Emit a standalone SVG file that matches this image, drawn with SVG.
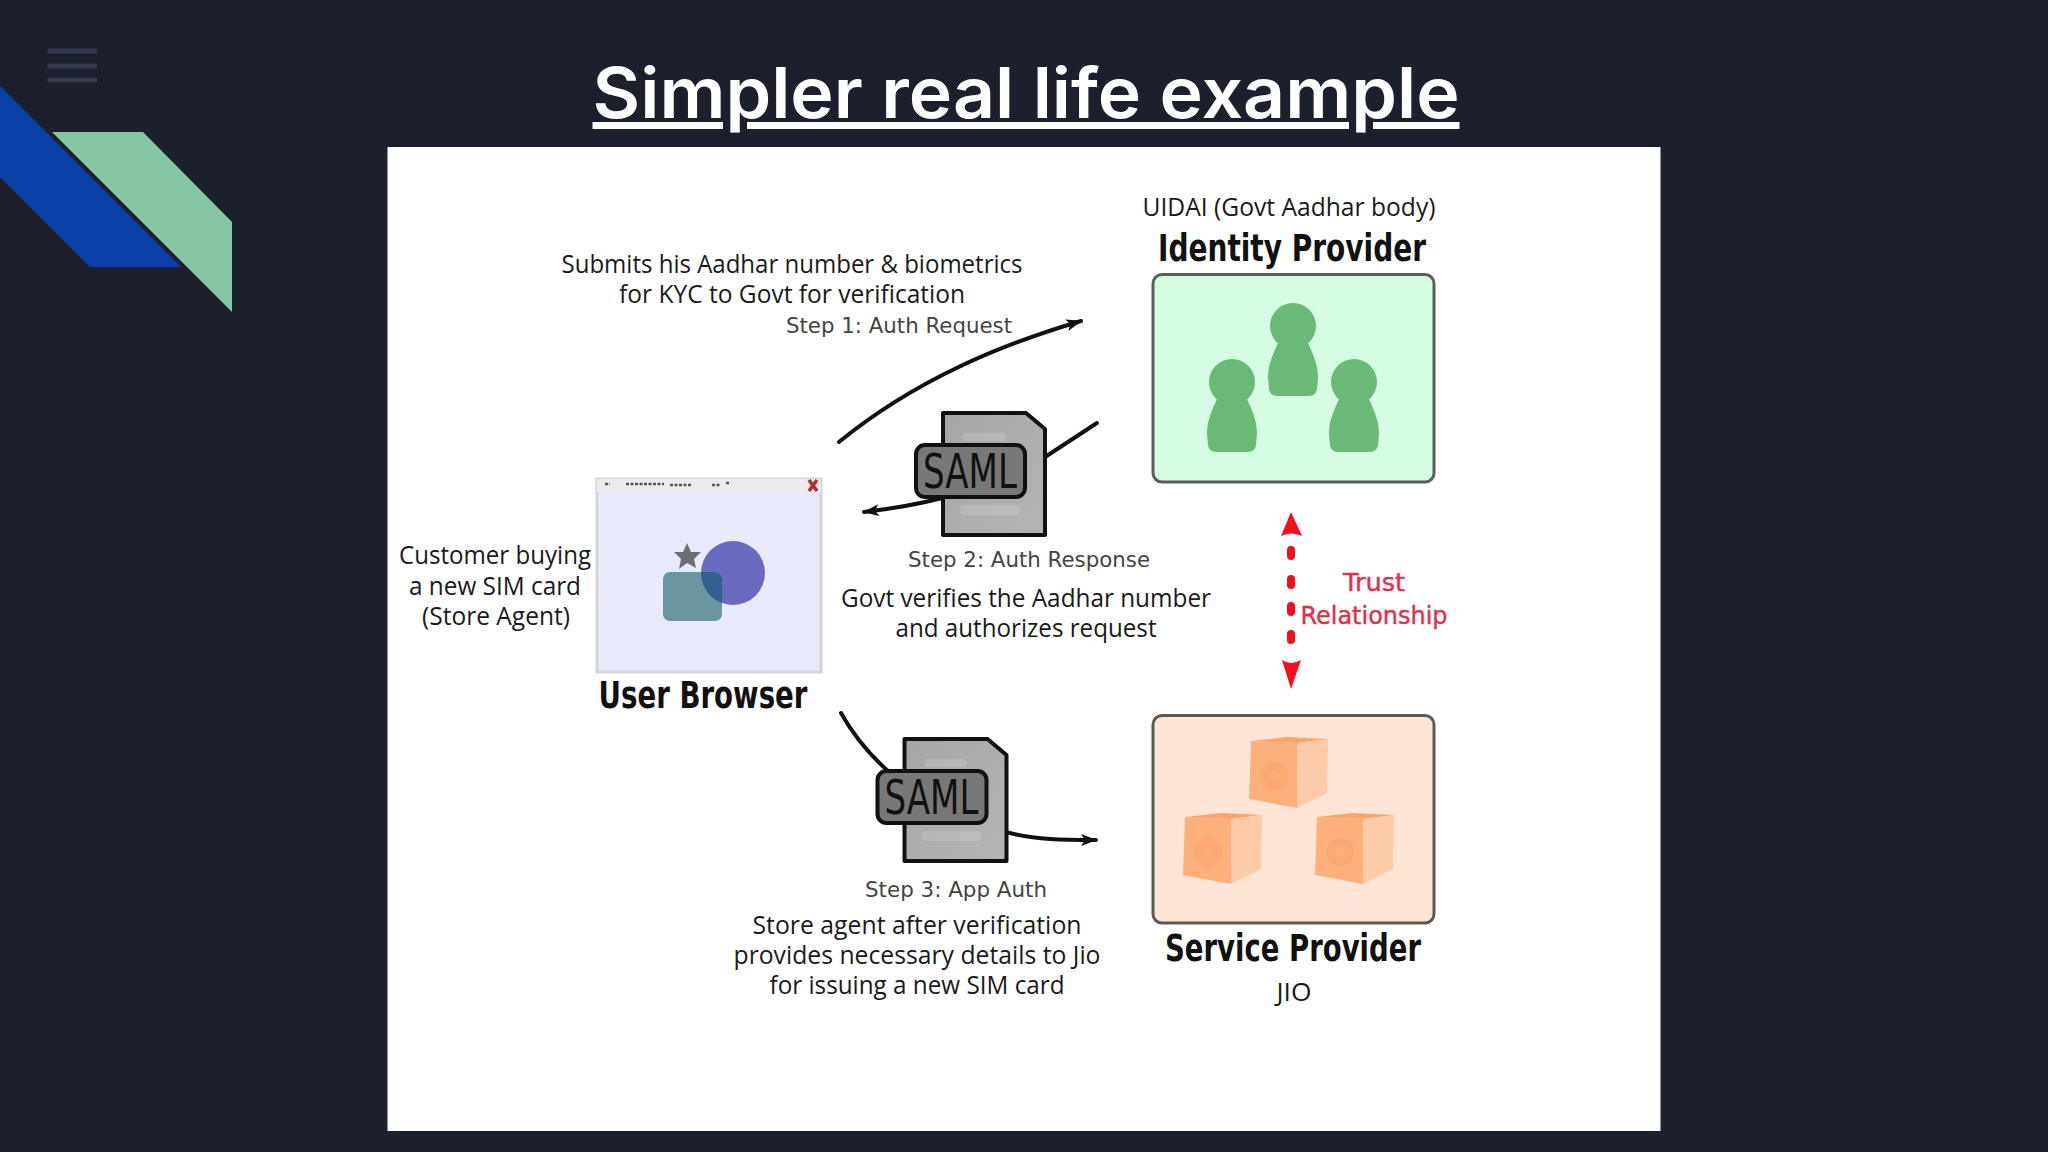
<svg xmlns="http://www.w3.org/2000/svg" width="2048" height="1152" viewBox="0 0 2048 1152">
<style>
.b{font-family:"Open Sans","Noto Sans","Liberation Sans",sans-serif;font-size:25px;fill:#1a1a1a;text-anchor:middle}
.s{font-family:"DejaVu Sans","Liberation Sans",sans-serif;font-size:21px;fill:#444;text-anchor:middle}
.h{font-family:"DejaVu Sans Condensed","DejaVu Sans",sans-serif;font-weight:700;font-size:37px;fill:#111;text-anchor:middle}
.t{font-family:"DejaVu Sans",sans-serif;font-size:25px;fill:#e0304a;stroke:#e0304a;stroke-width:.4;text-anchor:middle}
.saml{font-family:"DejaVu Sans",sans-serif;font-size:48px;fill:#111;text-anchor:middle}
.c{fill:none;stroke:#111;stroke-width:4;stroke-linecap:round}
.d{fill:#f50f1e}
.w{fill:#f0f0f0;opacity:.18}
</style>
<defs>
<marker id="a" markerWidth="16" markerHeight="12" refX="15" refY="6" orient="auto" markerUnits="userSpaceOnUse" viewBox="0 0 16 12"><path d="M0 0L16 6L0 12L4 6Z" fill="#111"/></marker>
<linearGradient id="dg" x1="0" y1="0" x2="1" y2="1"><stop offset="0" stop-color="#a6a6a6"/><stop offset="1" stop-color="#b4b4b4"/></linearGradient>
<g id="doc">
<path d="M943 413H1026L1045 429V535H943Z" fill="url(#dg)" stroke="#111" stroke-width="4" stroke-linejoin="round"/>
<rect x="963" y="433" width="42" height="8" rx="3" class="w"/>
<rect x="960" y="505" width="60" height="10" rx="4" class="w"/>
<rect x="916" y="445" width="109" height="52" rx="9" fill="#787878" stroke="#111" stroke-width="4"/>
<text x="970" y="488" class="saml" textLength="94" lengthAdjust="spacingAndGlyphs">SAML</text>
</g>
<g id="person" fill="#6ab977">
<circle r="23"/>
<path d="M-14 15C-20 28-25 38-25 52L-24 63Q-23 70-16 70H16Q23 70 24 63L25 52C25 38 20 28 14 15Z"/>
</g>
<g id="cube">
<path d="M1251 741L1287 737L1328 739L1297 743Z" fill="#fba468"/>
<path d="M1251 741L1297 743V808L1249 799Z" fill="#fdb07b"/>
<path d="M1297 743L1328 739L1327 793L1297 808Z" fill="#fecba8"/>
<circle cx="1274" cy="776" r="14" fill="#fba873"/>
<circle cx="1274" cy="776" r="5" fill="#fcae7a"/>
</g>
<clipPath id="oc"><circle cx="733" cy="573" r="32"/></clipPath>
</defs>

<rect width="2048" height="1152" fill="#1c202c"/>
<g id="hamburger" fill="#333a4b">
<rect x="47.500" y="48.500" width="49.500" height="5"/>
<rect x="47.500" y="63.500" width="49.500" height="5"/>
<rect x="47.500" y="77.500" width="49.500" height="5"/>
</g>
<polygon id="blue-band" points="0,86 181,267 90,267 0,177" fill="#0a40a5"/>
<polygon id="green-band" points="52,132 143,132 232,222 232,312" fill="#84c5a3"/>
<text id="title" x="1026" y="118" font-family="Inter,&quot;Open Sans&quot;,sans-serif" font-size="70" font-weight="600" fill="#fff" text-anchor="middle" text-decoration="underline" textLength="867" lengthAdjust="spacingAndGlyphs">Simpler real life example</text>
<rect id="slide" x="387.500" y="147" width="1273" height="984" fill="#fff"/>

<g id="connectors">
<path class="c" marker-end="url(#a)" d="M839 442C915 380 1000 345 1081 321"/>
<path class="c" d="M1097 423L1045 457"/>
<path class="c" marker-end="url(#a)" d="M942 498C915 505 890 509 864 512"/>
<path class="c" d="M841 713C855 738 870 755 888 771"/>
<path class="c" marker-end="url(#a)" d="M1006 832C1035 840 1065 840 1096 840"/>
<g id="trust-link">
<path class="d" d="M1291 512L1302 536Q1291 531 1281 536Z"/>
<rect class="d" x="1287" y="546" width="8" height="14" rx="4"/>
<rect class="d" x="1287" y="575" width="8" height="14" rx="4"/>
<rect class="d" x="1287" y="602" width="8" height="14" rx="4"/>
<rect class="d" x="1287" y="630" width="8" height="14" rx="4"/>
<path class="d" d="M1291 689L1282 660Q1291 666 1301 660Z"/>
</g>
</g>

<g id="idp">
<rect x="1153" y="274.500" width="281" height="207.500" rx="9" fill="#d5fde3" stroke="#5a5f5c" stroke-width="3"/>
<use href="#person" x="1293" y="326"/>
<use href="#person" x="1232" y="382"/>
<use href="#person" x="1354" y="382"/>
<text x="1289" y="216" class="b" textLength="293" lengthAdjust="spacingAndGlyphs">UIDAI (Govt Aadhar body)</text>
<text x="1292" y="261" class="h" textLength="268" lengthAdjust="spacingAndGlyphs">Identity Provider</text>
</g>

<g id="sp">
<rect x="1153" y="715.500" width="281" height="207.500" rx="9" fill="#fee5d5" stroke="#5a5a55" stroke-width="3"/>
<use href="#cube"/>
<use href="#cube" x="-66" y="76"/>
<use href="#cube" x="66" y="76"/>
<text x="1293" y="961" class="h" textLength="256" lengthAdjust="spacingAndGlyphs">Service Provider</text>
<text x="1294" y="1001" class="b" textLength="35" lengthAdjust="spacingAndGlyphs">JIO</text>
</g>

<g id="browser">
<rect x="597" y="479" width="224" height="193" fill="#e9ebfd" stroke="#d4d4da" stroke-width="3"/>
<rect x="597" y="479" width="224" height="13" fill="#ececec"/>
<path d="M605 484h5M626 484h38M670 485h22M712 485h8M726 483h3" stroke="#555" stroke-width="2.500" stroke-dasharray="3 1.500" fill="none"/>
<path d="M809 480L817 491M817 480L809 491" stroke="#a83038" stroke-width="3.500"/>
<path d="M687 543L691 552L701 552L694 559L696 568L687 563L679 569L681 559L674 552L683 552Z" fill="#6c7076"/>
<circle cx="733" cy="573" r="32" fill="#6a6bc0"/>
<rect x="663" y="572" width="59" height="49" rx="7" fill="#6a96a0"/>
<rect x="663" y="572" width="59" height="49" rx="7" fill="#33608c" clip-path="url(#oc)"/>
<text x="703" y="708" class="h" textLength="209" lengthAdjust="spacingAndGlyphs">User Browser</text>
<text x="495" y="564" class="b" textLength="192" lengthAdjust="spacingAndGlyphs">Customer buying</text>
<text x="495" y="595" class="b" textLength="172" lengthAdjust="spacingAndGlyphs">a new SIM card</text>
<text x="496" y="625" class="b" textLength="148" lengthAdjust="spacingAndGlyphs">(Store Agent)</text>
</g>

<g id="saml-response"><use href="#doc"/></g>
<g id="saml-assertion"><use href="#doc" x="-38.500" y="326"/></g>

<g id="labels">
<text x="792" y="273" class="b" textLength="461" lengthAdjust="spacingAndGlyphs">Submits his Aadhar number &amp; biometrics</text>
<text x="792" y="303" class="b" textLength="346" lengthAdjust="spacingAndGlyphs">for KYC to Govt for verification</text>
<text x="899" y="333" class="s" textLength="226" lengthAdjust="spacingAndGlyphs">Step 1: Auth Request</text>
<text x="1029" y="567" class="s" textLength="242" lengthAdjust="spacingAndGlyphs">Step 2: Auth Response</text>
<text x="1026" y="607" class="b" textLength="370" lengthAdjust="spacingAndGlyphs">Govt verifies the Aadhar number</text>
<text x="1026" y="637" class="b" textLength="261" lengthAdjust="spacingAndGlyphs">and authorizes request</text>
<text x="956" y="897" class="s" textLength="182" lengthAdjust="spacingAndGlyphs">Step 3: App Auth</text>
<text x="917" y="934" class="b" textLength="329" lengthAdjust="spacingAndGlyphs">Store agent after verification</text>
<text x="917" y="964" class="b" textLength="367" lengthAdjust="spacingAndGlyphs">provides necessary details to Jio</text>
<text x="917" y="994" class="b" textLength="295" lengthAdjust="spacingAndGlyphs">for issuing a new SIM card</text>
<text x="1374" y="591" class="t" textLength="62" lengthAdjust="spacingAndGlyphs">Trust</text>
<text x="1374" y="624" class="t" textLength="147" lengthAdjust="spacingAndGlyphs">Relationship</text>
</g>
</svg>
